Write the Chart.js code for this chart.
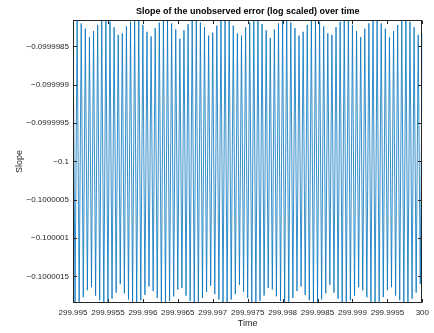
<!DOCTYPE html>
<html>
<head>
<meta charset="utf-8">
<script src="https://cdn.jsdelivr.net/npm/chart.js@4"></script>
<style>
  html, body { margin: 0; padding: 0; background: #fff; }
  canvas { display: block; }
</style>
</head>
<body>
<canvas id="chart" width="434" height="333"></canvas>
<script>
// time window of the plot
const timeStart = 299.995;
const timeEnd = 300;

// slope values, read as offsets from -0.1 in units of 1e-8
const slopeBase = -0.1;
const slopeUnit = 1e-8;
const slopeOffset = [
  184, -184, 184, -183, 180, -177, 173, -168, 162, -164, 170, -175, 178, -181, 183, -184,
  184, -184, 182, -179, 175, -171, 165, -160, 167, -172, 176, -180, 182, -184, 184, -184,
  183, -181, 178, -174, 169, -163, 163, -169, 174, -178, 181, -183, 184, -184, 184, -182,
  180, -176, 172, -167, 160, -165, 171, -175, 179, -182, 184, -184, 184, -183, 181, -178,
  175, -170, 164, -162, 168, -173, 177, -180, 183, -184,
  184, -184, 183, -180, 177, -173, 167, -161, 164, -170, 175, -178, 181, -183, 184, -184,
  184, -182, 179, -175, 171, -165, 161, -167, 172, -176, 180, -182, 184, -184, 184, -183,
  181, -178, 174, -169, 164, -163, 169, -174, 178, -181, 183, -184, 184, -184, 182, -180,
  176, -172, 167, -161, 165, -171, 175, -179, 182, -184, 184, -184, 183, -181, 178, -175,
  170, -164, 162, -168, 173, -177, 180, -183, 184, -184,
  184, -183, 180, -177, 173, -168, 162, -164, 170, -175, 178, -181, 183, -184, 184, -184,
  182, -179, 175, -171, 165, -160, 167
];

const xTickValues = [299.995, 299.9955, 299.996, 299.9965, 299.997, 299.9975, 299.998, 299.9985, 299.999, 299.9995, 300];
const xTickLabels = ['299.995', '299.9955', '299.996', '299.9965', '299.997', '299.9975', '299.998', '299.9985', '299.999', '299.9995', '300'];
const yTickValues = [-0.0999985, -0.099999, -0.0999995, -0.1, -0.1000005, -0.100001, -0.1000015];
const yTickLabels = ['\u22120.0999985', '\u22120.099999', '\u22120.0999995', '\u22120.1', '\u22120.1000005', '\u22120.100001', '\u22120.1000015'];
const yMin = -0.100001846;
const yMax = -0.099998154;

const points = slopeOffset.map((v, i) => ({
  x: timeStart + (timeEnd - timeStart) * i / (slopeOffset.length - 1),
  y: slopeBase + v * slopeUnit
}));

const fontFamily = '"Liberation Sans", Arial, Helvetica, sans-serif';
const axisColor = '#262626';

// MATLAB style box with inward ticks on all four sides
const axesBox = {
  id: 'axesBox',
  afterDatasetsDraw(chart) {
    const { ctx, chartArea: a, scales } = chart;
    const len = 3.5;
    const l = Math.round(a.left) + 0.5, r = Math.round(a.right) - 0.5;
    const t = Math.round(a.top) + 0.5, b = Math.round(a.bottom) - 0.5;
    ctx.save();
    ctx.strokeStyle = axisColor;
    ctx.lineWidth = 1;
    ctx.beginPath();
    xTickValues.forEach(v => {
      const px = Math.round(scales.x.getPixelForValue(v)) + 0.5;
      ctx.moveTo(px, b); ctx.lineTo(px, b - len);
      ctx.moveTo(px, t); ctx.lineTo(px, t + len);
    });
    yTickValues.forEach(v => {
      const py = Math.round(scales.y.getPixelForValue(v)) + 0.5;
      ctx.moveTo(l, py); ctx.lineTo(l + len, py);
      ctx.moveTo(r, py); ctx.lineTo(r - len, py);
    });
    ctx.stroke();
    ctx.strokeRect(l, t, r - l, b - t);
    ctx.restore();
  }
};

new Chart(document.getElementById('chart'), {
  type: 'line',
  data: {
    datasets: [{
      data: points,
      borderColor: '#0072BD',
      borderWidth: 0.8,
      pointRadius: 0,
      tension: 0,
      fill: false
    }]
  },
  options: {
    responsive: false,
    animation: false,
    layout: { padding: { left: 0, right: 6, top: 0, bottom: 0 } },
    plugins: {
      legend: { display: false },
      tooltip: { enabled: false },
      title: {
        display: true,
        text: 'Slope of the unobserved error (log scaled) over time',
        fullSize: false,
        color: '#000',
        font: { family: fontFamily, size: 9, weight: 'bold' },
        padding: { top: 6, bottom: 3 }
      }
    },
    scales: {
      x: {
        type: 'linear',
        min: timeStart,
        max: timeEnd,
        grid: { display: false, drawTicks: false },
        border: { display: false },
        afterBuildTicks: scale => { scale.ticks = xTickValues.map(value => ({ value })); },
        afterFit: scale => { scale.height = 30; },
        ticks: {
          autoSkip: false,
          maxRotation: 0,
          padding: 5,
          color: axisColor,
          font: { family: fontFamily, size: 8 },
          callback: (value, index) => xTickLabels[index]
        },
        title: {
          display: true,
          text: 'Time',
          color: axisColor,
          font: { family: fontFamily, size: 9 },
          padding: { top: 0, bottom: 4 }
        }
      },
      y: {
        type: 'linear',
        min: yMin,
        max: yMax,
        grid: { display: false, drawTicks: false },
        border: { display: false },
        afterBuildTicks: scale => { scale.ticks = yTickValues.map(value => ({ value })); },
        afterFit: scale => { scale.width = 73; },
        ticks: {
          autoSkip: false,
          padding: 4,
          color: axisColor,
          font: { family: fontFamily, size: 8 },
          callback: (value, index) => yTickLabels[index]
        },
        title: {
          display: true,
          text: 'Slope',
          color: axisColor,
          font: { family: fontFamily, size: 9 },
          padding: { top: 14, bottom: 0 }
        }
      }
    }
  },
  plugins: [axesBox]
});
</script>
</body>
</html>
